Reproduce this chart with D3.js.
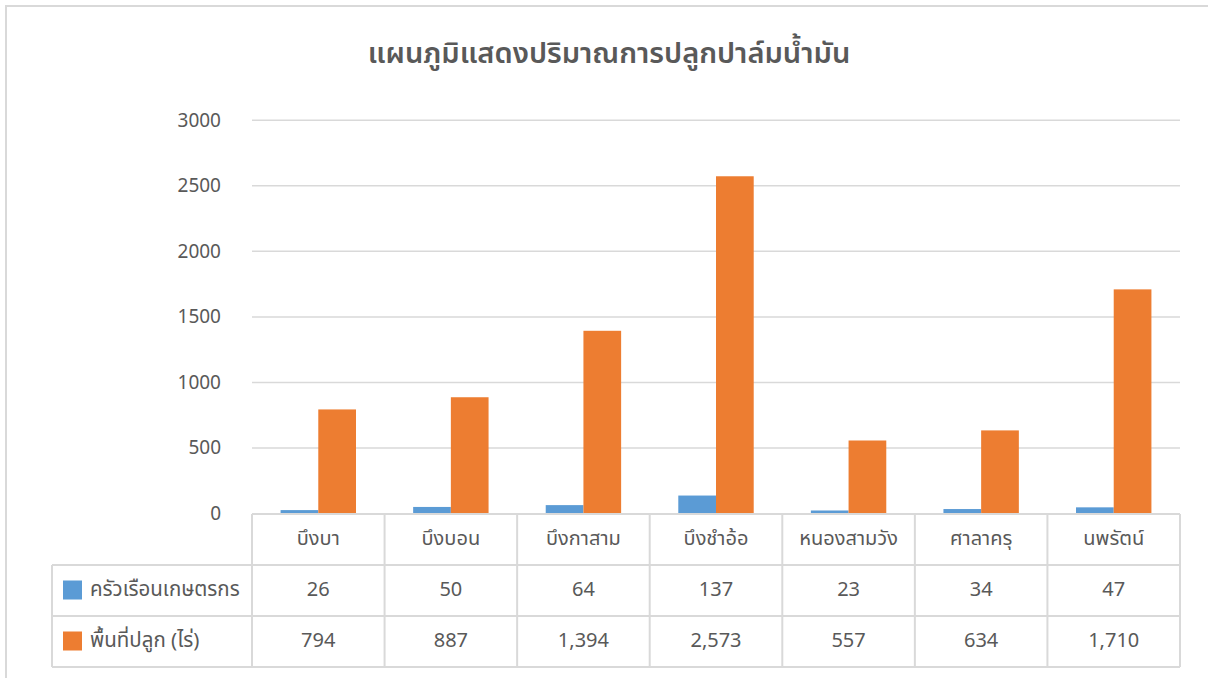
<!DOCTYPE html>
<html>
<head>
<meta charset="utf-8">
<script src="https://cdn.jsdelivr.net/npm/d3@7"></script>
<style>
  html, body { margin: 0; padding: 0; background: #fff; }
  svg { display: block; }
  text { font-family: "Noto Sans Thai", "Noto Sans Thai UI", "Leelawadee UI", "Noto Sans", "DejaVu Sans", sans-serif; fill: #595959; }
</style>
</head>
<body>
<svg id="chart" width="1208" height="678"></svg>
<script>
// Oil palm planting by sub-district
const categories = ["บึงบา", "บึงบอน", "บึงกาสาม", "บึงชำอ้อ", "หนองสามวัง", "ศาลาครุ", "นพรัตน์"];
const households = [26, 50, 64, 137, 23, 34, 47];
const plantedArea = [794, 887, 1394, 2573, 557, 634, 1710];
const seriesNames = ["ครัวเรือนเกษตรกร", "พื้นที่ปลูก (ไร่)"];
const seriesColors = ["#5b9bd5", "#ed7d31"];
const yTicks = [0, 500, 1000, 1500, 2000, 2500, 3000];
const titleText = "แผนภูมิแสดงปริมาณการปลูกปาล์มน้ำมัน";

const seriesValues = [households, plantedArea];

const svg = d3.select("#chart");
const W = 1208, H = 678;
const lineColor = "#d9d9d9";

// outer chart frame
svg.append("rect")
  .attr("x", 6).attr("y", 6)
  .attr("width", W + 20).attr("height", H + 20)
  .attr("fill", "none").attr("stroke", lineColor).attr("stroke-width", 2);

// layout
const plotLeft = 252, plotRight = 1180;
const plotTop = 120.3, plotBottom = 513.5;
const rowH = 51;
const tableTop = 514;
const legendLeft = 52;

const x = d3.scaleBand().domain(categories).range([plotLeft, plotRight]).paddingInner(0).paddingOuter(0);
const x1 = d3.scaleBand().domain(d3.range(seriesNames.length)).range([0, x.bandwidth()]).paddingInner(0).paddingOuter(0.758);
const y = d3.scaleLinear().domain([0, 3000]).range([plotBottom, plotTop]);

// title
svg.append("text")
  .attr("x", 609).attr("y", 63)
  .attr("text-anchor", "middle")
  .attr("font-size", 29)
  .attr("font-weight", 600)
  .text(titleText);

// y labels
const yAxis = d3.axisLeft(y).tickValues(yTicks).tickSize(0).tickPadding(0).tickFormat(d3.format("d"));
const gY = svg.append("g").attr("transform", `translate(${221},0)`).call(yAxis);
gY.select(".domain").remove();
gY.attr("font-family", null).attr("font-size", null);
gY.selectAll("text").attr("font-size", 19).attr("fill", "#595959").attr("dy", "0.3em");

// gridlines
svg.append("g").selectAll("line")
  .data(yTicks.filter(d => d > 0))
  .join("line")
  .attr("x1", plotLeft).attr("x2", plotRight)
  .attr("y1", d => y(d)).attr("y2", d => y(d))
  .attr("stroke", lineColor).attr("stroke-width", 1.5);

// bars
const groups = svg.append("g").selectAll("g")
  .data(categories)
  .join("g")
  .attr("transform", d => `translate(${x(d)},0)`);

groups.selectAll("rect")
  .data((d, i) => seriesValues.map((vals, s) => ({ s, v: vals[i] })))
  .join("rect")
  .attr("x", d => x1(d.s))
  .attr("width", x1.bandwidth())
  .attr("y", d => y(d.v))
  .attr("height", d => y(0) - y(d.v))
  .attr("fill", d => seriesColors[d.s]);

// data table
const tbl = svg.append("g");
const hLines = [
  { y: tableTop, x1: plotLeft },
  { y: tableTop + rowH, x1: legendLeft },
  { y: tableTop + 2 * rowH, x1: legendLeft },
  { y: tableTop + 3 * rowH, x1: legendLeft }
];
tbl.selectAll("line.h").data(hLines).join("line")
  .attr("class", "h")
  .attr("x1", d => d.x1).attr("x2", plotRight)
  .attr("y1", d => d.y).attr("y2", d => d.y)
  .attr("stroke", lineColor).attr("stroke-width", 2);

const vXs = categories.map(c => x(c)).concat([plotRight]);
tbl.selectAll("line.v").data(vXs).join("line")
  .attr("class", "v")
  .attr("x1", d => d).attr("x2", d => d)
  .attr("y1", tableTop).attr("y2", tableTop + 3 * rowH)
  .attr("stroke", lineColor).attr("stroke-width", 2);
tbl.append("line")
  .attr("x1", legendLeft).attr("x2", legendLeft)
  .attr("y1", tableTop + rowH).attr("y2", tableTop + 3 * rowH)
  .attr("stroke", lineColor).attr("stroke-width", 2);

// category header row
tbl.selectAll("text.cat").data(categories).join("text")
  .attr("class", "cat")
  .attr("x", d => x(d) + x.bandwidth() / 2)
  .attr("y", tableTop + rowH / 2)
  .attr("dy", "0.25em")
  .attr("text-anchor", "middle")
  .attr("font-size", 20)
  .text(d => d);

// value rows with legend keys
const fmt = d3.format(",");
seriesValues.forEach((vals, s) => {
  const rowY = tableTop + (s + 1) * rowH + rowH / 2;
  tbl.append("g").selectAll("text").data(vals).join("text")
    .attr("x", (d, i) => x(categories[i]) + x.bandwidth() / 2)
    .attr("y", rowY)
    .attr("dy", "0.28em")
    .attr("text-anchor", "middle")
    .attr("font-size", 20)
    .text(d => fmt(d));
  tbl.append("rect")
    .attr("x", 63).attr("y", rowY - 10)
    .attr("width", 19).attr("height", 19)
    .attr("fill", seriesColors[s]);
  tbl.append("text")
    .attr("x", 90).attr("y", rowY)
    .attr("dy", "0.25em")
    .attr("font-size", 20.5)
    .text(seriesNames[s]);
});
</script>
</body>
</html>
